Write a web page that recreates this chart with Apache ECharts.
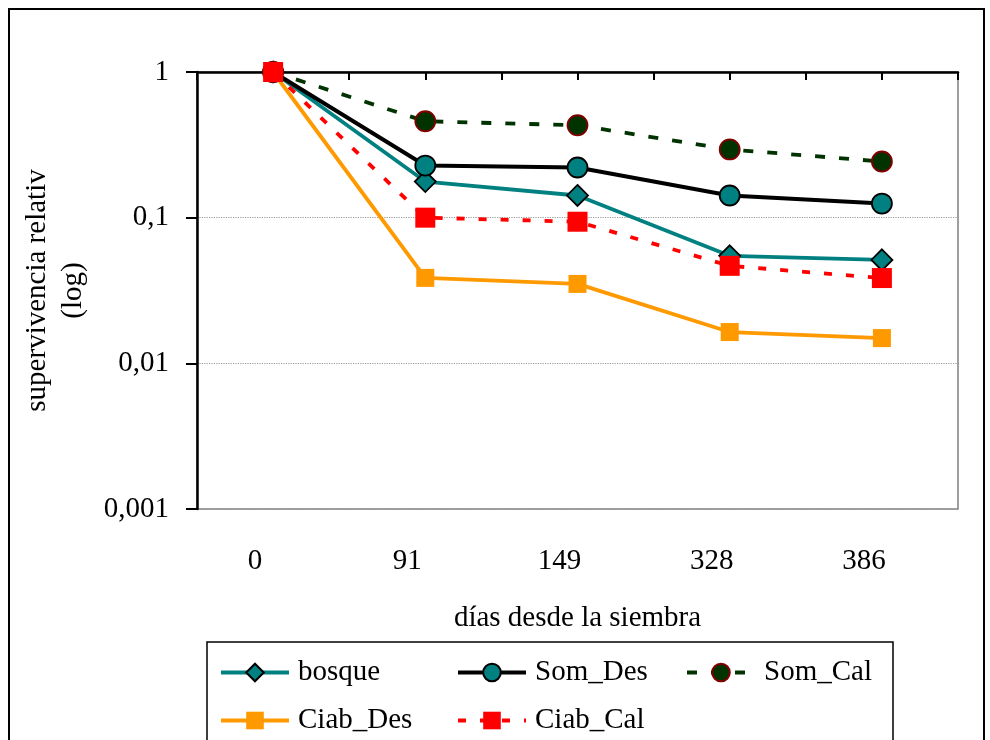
<!DOCTYPE html>
<html><head><meta charset="utf-8">
<script src="https://cdn.jsdelivr.net/npm/echarts@6/dist/echarts.min.js"></script>
<style>html,body{margin:0;padding:0;background:#fff}#c{width:990px;height:740px}</style>
</head><body><div id="c"></div>
<script>
var categories = ['0', '91', '149', '328', '386'];
var bosque   = [1, 0.177, 0.142, 0.0547, 0.0513];
var somDes   = [1, 0.228, 0.221, 0.142, 0.125];
var somCal   = [1, 0.459, 0.431, 0.294, 0.243];
var ciabDes  = [1, 0.0386, 0.0351, 0.0164, 0.0149];
var ciabCal  = [1, 0.100, 0.0938, 0.0467, 0.0385];
var yTicks = {1: '1', 0.1: '0,1', 0.01: '0,01', 0.001: '0,001'};

var FONT = '"Liberation Serif", "Times New Roman", serif';
var FS = 29;
var chart = echarts.init(document.getElementById('c'), null, {renderer: 'canvas'});
var halfTicks = [];
categories.forEach(function (c) { halfTicks.push(c + 'a', c + 'b'); });

function fmtY(v) {
  var k = Object.keys(yTicks).find(function (t) { return Math.abs(Math.log10(+t) - Math.log10(v)) < 1e-6; });
  return k ? yTicks[k] : '';
}

var legendPos = [
  ['bosque', 214, 653], ['Som_Des', 451, 653], ['Som_Cal', 680, 653],
  ['Ciab_Des', 214, 701], ['Ciab_Cal', 451, 701]
];

var option = {
  animation: false,
  textStyle: {fontFamily: FONT},
  grid: {left: 197, right: 32, top: 72, bottom: 231, containLabel: false, outerBoundsMode: 'none',
         show: true, borderColor: '#808080', borderWidth: 1.5, backgroundColor: 'transparent'},
  xAxis: [{
    type: 'category', data: categories, boundaryGap: true, position: 'bottom',
    axisLine: {show: false}, axisTick: {show: false},
    axisLabel: {color: '#000', fontSize: FS, fontFamily: FONT, margin: 38, padding: [0, 36, 0, 0]},
    name: 'días desde la siembra', nameLocation: 'middle', nameGap: 95,
    nameTextStyle: {color: '#000', fontSize: FS, fontFamily: FONT}
  }, {
    type: 'category', data: halfTicks, boundaryGap: true, position: 'top',
    axisLine: {show: true, lineStyle: {color: '#000', width: 2.5}},
    axisTick: {show: true, inside: true, length: 8, lineStyle: {color: '#000', width: 2}},
    axisLabel: {show: false}
  }],
  yAxis: {
    type: 'log', logBase: 10, min: 0.001, max: 1,
    axisLine: {show: true, lineStyle: {color: '#000', width: 2.5}},
    axisTick: {show: true, inside: false, length: 11, lineStyle: {color: '#000', width: 2}},
    axisLabel: {color: '#000', fontSize: FS, fontFamily: FONT, margin: 28, formatter: fmtY},
    splitLine: {show: true, lineStyle: {color: '#999', width: 1.2, type: 'dotted'}},
    name: 'supervivencia relativ\n(log)', nameLocation: 'middle', nameGap: 106, nameRotate: 90,
    nameTextStyle: {color: '#000', fontSize: FS, fontFamily: FONT, lineHeight: 36}
  },
  legend: legendPos.map(function (p) {
    return {data: [p[0]], orient: 'horizontal', left: p[1], top: p[2], itemWidth: 68, itemHeight: 22,
      lineStyle: {width: 4},
      textStyle: {fontSize: FS, fontFamily: FONT, color: '#000', padding: [0, 0, 0, 4]}};
  }),
  graphic: [
    {type: 'rect', shape: {x: 9, y: 9, width: 975, height: 760}, style: {fill: 'none', stroke: '#000', lineWidth: 2}, silent: true},
    {type: 'rect', shape: {x: 207, y: 642, width: 686, height: 120}, style: {fill: 'none', stroke: '#000', lineWidth: 1.5}, silent: true}
  ],
  series: [
    {name: 'bosque', type: 'line', data: bosque, symbol: 'diamond', symbolSize: 21,
     lineStyle: {color: '#008080', width: 3.8}, itemStyle: {color: '#008080', borderColor: '#000', borderWidth: 1.8}},
    {name: 'Som_Des', type: 'line', data: somDes, symbol: 'circle', symbolSize: 20,
     lineStyle: {color: '#000', width: 4}, itemStyle: {color: '#008080', borderColor: '#000', borderWidth: 1.8}},
    {name: 'Som_Cal', type: 'line', data: somCal, symbol: 'circle', symbolSize: 20,
     lineStyle: {color: '#003300', width: 3.8, type: [10, 14]}, itemStyle: {color: '#003300', borderColor: '#800000', borderWidth: 1.8}},
    {name: 'Ciab_Des', type: 'line', data: ciabDes, symbol: 'rect', symbolSize: 18,
     lineStyle: {color: '#FF9900', width: 3.8}, itemStyle: {color: '#FF9900', borderWidth: 0}},
    {name: 'Ciab_Cal', type: 'line', data: ciabCal, symbol: 'rect', symbolSize: 20,
     lineStyle: {color: '#FF0000', width: 3.8, type: [8, 14]}, itemStyle: {color: '#FF0000', borderWidth: 0}}
  ]
};
option.series.forEach(function (s) { s.xAxisIndex = 0; s.showAllSymbol = true; });
chart.setOption(option);
</script></body></html>
